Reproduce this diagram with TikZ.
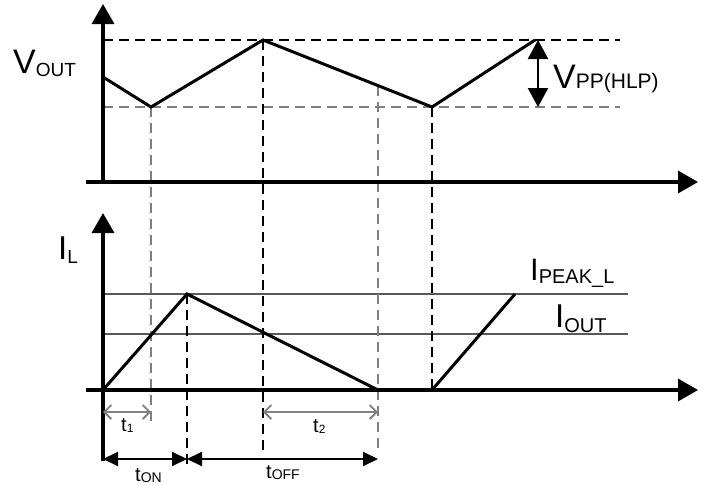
\documentclass[tikz,border=0pt]{standalone}
\usepackage{fontspec}
\setmainfont{Liberation Sans}
\usetikzlibrary{arrows.meta}

\newcommand{\siglbl}[5]{{\fontsize{#1}{#1}\selectfont #3\raisebox{-#5}{\fontsize{#2}{#2}\selectfont #4}}}

\begin{document}
\begin{tikzpicture}[x=1pt, y=-1pt,
  axis/.style={line width=3.5pt, -{Triangle[length=20pt,width=22pt]}},
  wave/.style={line width=3pt, line join=miter},
  guide/.style={line width=2pt, dash pattern=on 10pt off 6pt},
  greyguide/.style={guide, black!50},
  level/.style={line width=2pt, black!65},
  span/.style={line width=1.8pt, black!50, {Straight Barb[length=7pt,width=14pt]}-{Straight Barb[length=7pt,width=14pt]}},
  phase/.style={line width=2pt, {Triangle[length=15pt,width=14pt]}-{Triangle[length=15pt,width=14pt]}},
  every node/.style={inner sep=0pt, anchor=base west}]

\useasboundingbox (0,0) rectangle (704,485);

% Axes
\coordinate (O1) at (103,182);
\coordinate (X1a) at (86,182);
\coordinate (X1) at (698,182);
\coordinate (Y1) at (103,4);
\coordinate (O2) at (103,390);
\coordinate (X2a) at (86,390);
\coordinate (X2) at (698,390);
\coordinate (Y2) at (103,213);
\coordinate (Y2b) at (103,461);

% Output voltage
\coordinate (V0) at (103,77);
\coordinate (V1) at (151,107);
\coordinate (V2) at (263,40);
\coordinate (V3) at (432,107);
\coordinate (V4) at (535,40);
\coordinate (VB) at (378,86);

% Inductor current
\coordinate (I0) at (103,390);
\coordinate (I1) at (187,294);
\coordinate (I2) at (378,390);
\coordinate (I3) at (432,390);
\coordinate (I4) at (515,294);

% Levels
\coordinate (Hi) at (103,40);   \coordinate (HiE) at (620,40);
\coordinate (Lo) at (103,107);  \coordinate (LoE) at (620,107);
\coordinate (Pk) at (103,294);  \coordinate (PkE) at (628,294);
\coordinate (Av) at (103,334);  \coordinate (AvE) at (628,334);
\coordinate (PPa) at (538,40);  \coordinate (PPb) at (538,107);

% Guide ends
\coordinate (G1) at (151,427);
\coordinate (G2) at (187,466);
\coordinate (G3) at (263,455);
\coordinate (G4) at (378,452);

% Time spans
\coordinate (Ta) at (103,412);  \coordinate (Tb) at (151,412);
\coordinate (Tc) at (263,412);  \coordinate (Td) at (378,412);
\coordinate (Pa) at (103,459);  \coordinate (Pb) at (187,459);
\coordinate (Pc) at (378,459);

% Dashed levels
\draw[guide] (Hi)--(HiE);
\draw[greyguide] (Lo)--(LoE);
\draw[level] (Pk)--(PkE);
\draw[level] (Av)--(AvE);

% Dashed verticals
\draw[greyguide] (V1)--(G1);
\draw[guide] (I1)--(G2);
\draw[guide] (V2)--(G3);
\draw[greyguide] (VB)--(G4);
\draw[guide] (V3)--(I3);

% Axes
\draw[line width=3.5pt] (X1a)--(O1);
\draw[axis] (O1)--(Y1);
\draw[axis] (O1)--(X1);
\draw[line width=3.5pt] (X2a)--(O2);
\draw[axis] (Y2b)--(Y2);
\draw[axis] (O2)--(X2);

% Waveforms
\draw[wave] (V0)--(V1)--(V2)--(V3)--(V4);
\draw[wave] (I0)--(I1)--(I2);
\draw[wave] (I3)--(I4);

% Ripple
\draw[line width=2.4pt, {Triangle[length=19pt,width=20pt]}-{Triangle[length=19pt,width=20pt]}] (PPa)--(PPb);

% Spans
\draw[span] (Ta)--(Tb);
\draw[span] (Tc)--(Td);
\draw[phase] (Pa)--(Pb);
\draw[phase] (Pb)--(Pc);

% Labels
\node (vout) at (13,73) {\siglbl{34}{19}{V}{OUT}{3pt}};
\node (vpp) at (553,88) {\siglbl{34}{21}{V}{PP(HLP)}{0pt}};
\node (il) at (58,259) {\siglbl{33}{19}{I}{L}{4pt}};
\node (ipk) at (530,280) {\siglbl{31}{20}{I}{PEAK\_L}{3pt}};
\node (iout) at (555,327) {\siglbl{33}{20}{I}{OUT}{5pt}};
\node (t1) at (121,431) {\siglbl{20}{12}{t}{1}{1pt}};
\node (t2) at (313,432) {\siglbl{20}{12}{t}{2}{1pt}};
\node (ton) at (135,481) {\siglbl{20}{14}{t}{ON}{1pt}};
\node (toff) at (266,478) {\siglbl{20}{14}{t}{OFF}{1pt}};

\end{tikzpicture}
\end{document}
